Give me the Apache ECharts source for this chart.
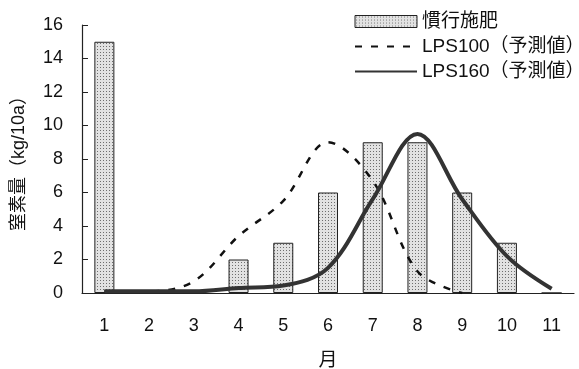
<!DOCTYPE html>
<html>
<head>
<meta charset="utf-8">
<script src="https://cdn.jsdelivr.net/npm/echarts@6/dist/echarts.min.js"></script>
<style>
  html, body { margin: 0; padding: 0; background: #fff; }
  #main { width: 579px; height: 369px; }
</style>
</head>
<body>
<div id="main"></div>
<script>
// data
const months = ['1', '2', '3', '4', '5', '6', '7', '8', '9', '10', '11']
const kanko = [15, 0, 0, 2, 3, 6, 9, 9, 6, 3, 0]
const lps100 = [0.1, 0.1, 0.7, 3.4, 5.5, 9.0, 6.7, 1.3, 0, null, null]
const lps160 = [0.1, 0.1, 0.1, 0.3, 0.45, 1.5, 5.6, 9.5, 5.6, 2.2, 0.25]

// dotted fill for the bars
function dotPattern() {
  const c = document.createElement('canvas')
  c.width = 3
  c.height = 3
  const ctx = c.getContext('2d')
  ctx.fillStyle = '#e2e2e2'
  ctx.fillRect(0, 0, 3, 3)
  ctx.fillStyle = '#6e6e6e'
  ctx.fillRect(1, 1, 1, 1)
  return c
}

const font = 'Arial, "Liberation Sans", "Noto Sans CJK JP", sans-serif'
const chart = echarts.init(document.getElementById('main'))
const option = {
  animation: false,
  grid: { left: 82, right: 5, top: 25, bottom: 76, outerBoundsMode: 'none' },
  legend: {
    orient: 'vertical',
    left: 349,
    top: 7,
    itemWidth: 62,
    itemHeight: 12,
    itemGap: 6,
    textStyle: { color: '#111', fontSize: 19, fontFamily: font },
    data: [
      { name: '慣行施肥', icon: 'rect', itemStyle: { borderWidth: 1 } },
      { name: 'LPS100（予測値）', itemStyle: { opacity: 0 } },
      { name: 'LPS160（予測値）', itemStyle: { opacity: 0 } }
    ]
  },
  xAxis: {
    type: 'category',
    data: months,
    boundaryGap: true,
    name: '月',
    nameLocation: 'middle',
    nameGap: 58,
    nameTextStyle: { color: '#111', fontSize: 19, fontFamily: font },
    axisLine: { lineStyle: { color: '#222', width: 1.2 } },
    axisTick: { inside: true, length: 6, lineStyle: { color: '#222' } },
    axisLabel: { color: '#111', fontSize: 18, fontFamily: font, margin: 24 }
  },
  yAxis: {
    type: 'value',
    min: 0,
    max: 16,
    interval: 2,
    name: '窒素量（kg/10a）',
    nameLocation: 'middle',
    nameGap: 54,
    nameTextStyle: { color: '#111', fontSize: 18, fontFamily: font },
    splitLine: { show: false },
    axisLine: { show: true, lineStyle: { color: '#222', width: 1.2 } },
    axisTick: { show: true, inside: true, length: 6, lineStyle: { color: '#222' } },
    axisLabel: { color: '#111', fontSize: 18, fontFamily: font, margin: 19 }
  },
  series: [
    {
      type: 'bar',
      name: '慣行施肥',
      data: kanko,
      barWidth: 20,
      itemStyle: {
        color: { image: dotPattern(), repeat: 'repeat' },
        borderColor: '#222',
        borderWidth: 1
      }
    },
    {
      type: 'line',
      name: 'LPS100（予測値）',
      data: lps100,
      smooth: 0.35,
      showSymbol: false,
      symbol: 'none',
      lineStyle: { color: '#111', width: 2.5, type: [7, 9] },
      itemStyle: { color: '#111' }
    },
    {
      type: 'line',
      name: 'LPS160（予測値）',
      data: lps160,
      smooth: 0.35,
      showSymbol: false,
      symbol: 'none',
      lineStyle: { color: '#333', width: 4 },
      itemStyle: { color: '#333' }
    }
  ]
}
chart.setOption(option)
</script>
</body>
</html>
